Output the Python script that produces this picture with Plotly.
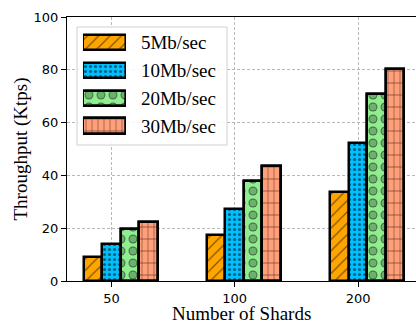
import math
import plotly.graph_objects as go

# Throughput per shard count and link bandwidth
shards = ["50", "100", "200"]
series = ["5Mb/sec", "10Mb/sec", "20Mb/sec", "30Mb/sec"]
tput_5 = [9.0, 17.4, 33.8]
tput_10 = [13.9, 27.3, 52.1]
tput_20 = [19.6, 38.0, 70.7]
tput_30 = [22.2, 43.6, 80.2]
values = [tput_5, tput_10, tput_20, tput_30]
x_title = "Number of Shards"
y_title = "Throughput (Ktps)"

colors = ["#FFA500", "#00BFFF", "#90EE90", "#FFA07A"]
BAR_W = 0.15
EDGE = dict(color="black", width=2.5)


def dot_solidity(radius, size):
    return math.pi * radius * radius / (size * size)


# base pattern + optional overlay pattern (drawn on a transparent copy)
patterns = [
    [dict(shape="/", fgcolor="black", size=8, solidity=0.15)],
    [dict(shape=".", fgcolor="black", size=5, solidity=0.3)],
    [dict(shape=".", fgcolor="black", size=12, solidity=dot_solidity(4.5, 12)),
     dict(shape=".", fgcolor="#90EE90", size=12, solidity=dot_solidity(3.3, 12))],
    [dict(shape="|", fgcolor="#5a2e1e", size=6, solidity=0.17),
     dict(shape="-", fgcolor="#5a2e1e", size=12, solidity=0.1)],
]

fig = go.Figure()
pos = list(range(len(shards)))

for i, (name, vals, col, pats) in enumerate(zip(series, values, colors, patterns)):
    offset = (i - 1.5) * BAR_W
    for k, pat in enumerate(pats):
        first = k == 0
        marker = dict(
            color=col if first else "rgba(0,0,0,0)",
            line=EDGE,
            pattern=dict(pat, fillmode="overlay"),
        )
        fig.add_trace(go.Bar(
            x=pos, y=vals, width=BAR_W, offset=offset, name=name,
            marker=marker, showlegend=False, xaxis="x", yaxis="y",
        ))
        # legend swatch on the auxiliary axes
        fig.add_trace(go.Bar(
            x=[1], y=[name], base=0, orientation="h", width=0.55, name=name,
            marker=dict(marker), showlegend=False, xaxis="x2", yaxis="y2",
        ))

serif = "Liberation Serif"
sans = "DejaVu Sans"

X_RANGE = [-0.36, 2.47]
Y_RANGE = [0, 100]
MARGIN = dict(l=67, r=0, t=17, b=41)
PLOT_H = 322 - MARGIN["t"] - MARGIN["b"]


def frac_x(f):
    return X_RANGE[0] + f * (X_RANGE[1] - X_RANGE[0])


def frac_y(f):
    return Y_RANGE[0] + f * (Y_RANGE[1] - Y_RANGE[0])


fig.update_layout(
    width=416, height=322,
    margin=MARGIN,
    paper_bgcolor="white", plot_bgcolor="white",
    barmode="overlay", bargap=0,
    showlegend=False,
    xaxis=dict(
        range=X_RANGE, tickmode="array", tickvals=pos, ticktext=shards,
        showline=True, linecolor="black", linewidth=1, mirror=True,
        ticks="outside", ticklen=5, tickcolor="black",
        showgrid=True, gridcolor="#b8b8b8", gridwidth=0.8, griddash="3px,2px",
        zeroline=False, automargin=False,
        tickfont=dict(family=sans, size=13, color="black"),
    ),
    yaxis=dict(
        range=Y_RANGE, tickmode="array", tickvals=[0, 20, 40, 60, 80, 100],
        showline=True, linecolor="black", linewidth=1,
        ticks="outside", ticklen=5, tickcolor="black",
        showgrid=True, gridcolor="#b8b8b8", gridwidth=0.8, griddash="3px,2px",
        zeroline=False, automargin=False,
        tickfont=dict(family=sans, size=13, color="black"),
        title=dict(text=y_title, font=dict(family=serif, size=19, color="black"),
                   standoff=0),
    ),
    xaxis2=dict(domain=[0.0458, 0.169], range=[0, 1], anchor="y2", visible=False,
                fixedrange=True),
    yaxis2=dict(domain=[0.5347, 0.9547], anchor="x2", side="right",
                type="category", categoryorder="array", categoryarray=series,
                range=[3.5, -0.5], showgrid=False, showline=False, zeroline=False,
                ticks="", ticklabelstandoff=14, automargin=False,
                tickfont=dict(family=serif, size=19, color="black")),
    shapes=[dict(
        type="rect", xref="x", yref="y",
        x0=frac_x(0.0287), x1=frac_x(0.4585), y0=frac_y(0.515), y1=frac_y(0.962),
        line=dict(color="#d0d0d0", width=1), fillcolor="rgba(255,255,255,0.85)",
        layer="between",
    )],
    annotations=[dict(
        text=x_title, xref="x domain", yref="paper",
        x=0.5, y=-MARGIN["b"] / PLOT_H, xanchor="center", yanchor="bottom",
        yshift=-4, showarrow=False,
        font=dict(family=serif, size=19, color="black"),
    )],
)

fig.write_html("out.html")
